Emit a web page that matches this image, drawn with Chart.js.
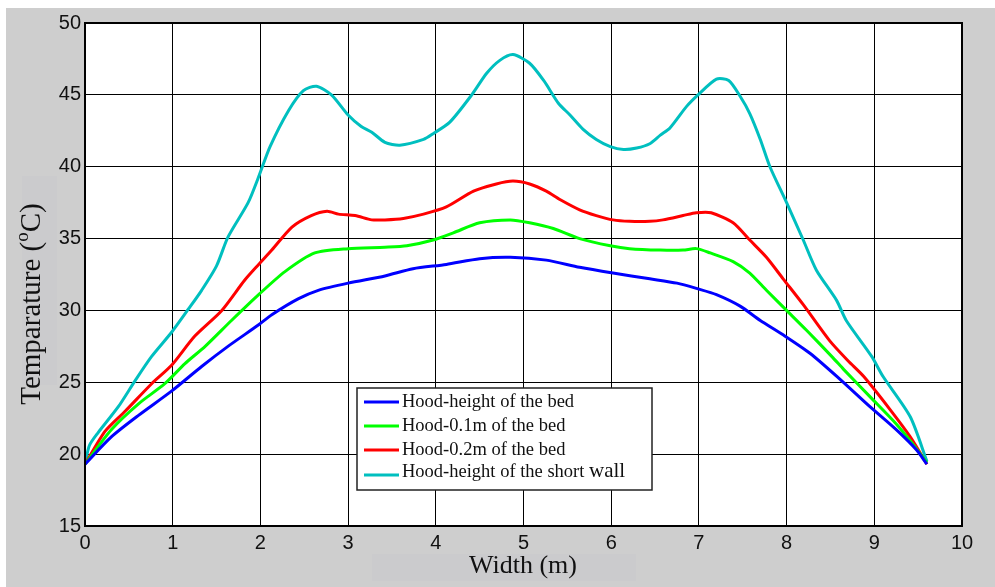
<!DOCTYPE html>
<html>
<head>
<meta charset="utf-8">
<script src="https://cdn.jsdelivr.net/npm/chart.js@4.4.1/dist/chart.umd.min.js"></script>
<style>
  html, body { margin: 0; padding: 0; background: #fff; }
  #panel { position: absolute; left: 6px; top: 8px; width: 989px; height: 579px; background: #cecece; }
  #wrap { position: absolute; left: 0; top: 0; width: 995px; height: 587px; }
</style>
</head>
<body>
<div id="panel"></div>
<div id="wrap"><canvas id="chart" width="995" height="587"></canvas></div>
<script>
// --- data ---
const seriesNames = ['Hood-height of the bed', 'Hood-0.1m of the bed', 'Hood-0.2m of the bed', 'Hood-height of the short wall'];
const xTicks = [0, 1, 2, 3, 4, 5, 6, 7, 8, 9, 10];
const yTicks = [15, 20, 25, 30, 35, 40, 45, 50];

const bedX = [0, 0.30, 0.61, 0.99, 1.33, 1.63, 1.98, 2.13, 2.43, 2.66, 3.0, 3.42, 3.74, 4.12, 4.50, 4.85, 5.26, 5.64, 6.02, 6.44, 6.75, 6.99, 7.20, 7.47, 7.70, 7.96, 8.27, 8.61, 8.95, 9.25, 9.48, 9.6];
const bedY = [19.3, 21.2, 22.7, 24.4, 26.1, 27.5, 29.0, 29.7, 30.8, 31.4, 31.9, 32.4, 32.9, 33.2, 33.6, 33.7, 33.5, 33.0, 32.6, 32.2, 31.9, 31.5, 31.1, 30.3, 29.3, 28.3, 27.0, 25.2, 23.3, 21.7, 20.3, 19.3];

const bed01X = [0, 0.30, 0.61, 0.91, 1.14, 1.37, 1.67, 1.98, 2.28, 2.62, 3.0, 3.42, 3.67, 3.97, 4.20, 4.50, 4.85, 5.07, 5.34, 5.64, 5.99, 6.21, 6.56, 6.82, 6.97, 7.13, 7.39, 7.58, 7.77, 8.0, 8.23, 8.53, 8.65, 8.95, 9.25, 9.44, 9.6];
const bed01Y = [19.3, 21.7, 23.5, 24.9, 26.3, 27.5, 29.3, 31.1, 32.7, 34.0, 34.3, 34.4, 34.5, 34.9, 35.4, 36.1, 36.3, 36.1, 35.7, 35.0, 34.5, 34.3, 34.2, 34.2, 34.3, 34.0, 33.4, 32.6, 31.4, 30.0, 28.6, 26.7, 25.9, 24.0, 22.1, 20.7, 19.4];

const bed02X = [0, 0.23, 0.46, 0.76, 0.99, 1.25, 1.56, 1.82, 1.98, 2.13, 2.36, 2.58, 2.76, 2.89, 3.08, 3.27, 3.42, 3.63, 3.86, 4.12, 4.43, 4.69, 4.88, 5.07, 5.26, 5.42, 5.64, 5.83, 6.02, 6.21, 6.44, 6.59, 6.82, 6.97, 7.14, 7.39, 7.58, 7.77, 7.96, 8.19, 8.49, 8.70, 8.88, 9.18, 9.41, 9.6];
const bed02Y = [19.3, 21.6, 23.0, 24.9, 26.2, 28.2, 30.0, 32.1, 33.2, 34.2, 35.8, 36.6, 36.9, 36.7, 36.6, 36.3, 36.3, 36.4, 36.7, 37.2, 38.3, 38.8, 39.0, 38.8, 38.3, 37.7, 37.0, 36.6, 36.3, 36.2, 36.2, 36.3, 36.6, 36.8, 36.8, 36.1, 34.9, 33.7, 32.2, 30.4, 27.9, 26.5, 25.4, 23.1, 21.2, 19.3];

const wallX = [0, 0.05, 0.15, 0.38, 0.57, 0.76, 0.99, 1.18, 1.33, 1.5, 1.63, 1.86, 1.98, 2.11, 2.32, 2.49, 2.64, 2.81, 3.0, 3.15, 3.27, 3.42, 3.59, 3.86, 3.97, 4.16, 4.41, 4.58, 4.73, 4.88, 5.07, 5.23, 5.40, 5.53, 5.68, 5.83, 5.99, 6.14, 6.29, 6.44, 6.56, 6.67, 6.86, 6.99, 7.20, 7.34, 7.47, 7.58, 7.70, 7.81, 8.0, 8.19, 8.34, 8.57, 8.68, 8.97, 9.10, 9.41, 9.6];
const wallY = [19.3, 20.6, 21.5, 23.3, 25.1, 26.8, 28.5, 30.1, 31.4, 33.1, 35.1, 37.5, 39.3, 41.4, 43.9, 45.3, 45.6, 45.0, 43.6, 42.8, 42.4, 41.7, 41.5, 41.9, 42.3, 43.1, 45.0, 46.5, 47.4, 47.8, 47.2, 46.0, 44.4, 43.6, 42.6, 41.9, 41.4, 41.2, 41.3, 41.6, 42.2, 42.7, 44.2, 45.0, 46.1, 46.0, 44.9, 43.7, 41.9, 40.0, 37.5, 34.9, 32.8, 30.7, 29.3, 26.8, 25.4, 22.6, 19.5];

const colors = ['#0000ff', '#00ff00', '#ff0000', '#00bfbf'];

function toPoints(xs, ys) {
  return xs.map((x, i) => ({ x: x, y: ys[i] }));
}

// white plot area, frame, axis titles and the boxed legend
const decor = {
  id: 'decor',
  beforeDraw(chart) {
    const { ctx, chartArea: a } = chart;
    ctx.save();
    // faint boxes behind the axis titles
    ctx.fillStyle = '#cbcbcd';
    ctx.fillRect(22, 176, 35, 209);
    ctx.fillRect(372, 554, 264, 27);
    ctx.fillStyle = '#fff';
    ctx.fillRect(a.left, a.top, a.right - a.left, a.bottom - a.top);
    ctx.restore();
  },
  afterDraw(chart) {
    const { ctx, chartArea: a } = chart;
    ctx.save();
    ctx.strokeStyle = '#000';
    ctx.lineWidth = 2;
    ctx.strokeRect(a.left, a.top, a.right - a.left, a.bottom - a.top);

    // x title
    ctx.fillStyle = '#111';
    ctx.font = '26px "Liberation Serif"';
    ctx.textAlign = 'center';
    ctx.textBaseline = 'middle';
    ctx.fillText('Width (m)', 523, 566);

    // y title with superscript o
    ctx.translate(30, 304);
    ctx.rotate(-Math.PI / 2);
    const p1 = 'Temparature (', p2 = 'o', p3 = 'C)';
    ctx.font = '29px "Liberation Serif"';
    const w1 = ctx.measureText(p1).width;
    const w3 = ctx.measureText(p3).width;
    ctx.font = '19px "Liberation Serif"';
    const w2 = ctx.measureText(p2).width;
    let x0 = -(w1 + w2 + w3) / 2;
    ctx.textAlign = 'left';
    ctx.textBaseline = 'alphabetic';
    ctx.font = '29px "Liberation Serif"';
    ctx.fillText(p1, x0, 10);
    ctx.font = '19px "Liberation Serif"';
    ctx.fillText(p2, x0 + w1, -2);
    ctx.font = '29px "Liberation Serif"';
    ctx.fillText(p3, x0 + w1 + w2, 10);
    ctx.restore();

    // legend box
    ctx.save();
    ctx.fillStyle = '#fff';
    ctx.fillRect(357, 388, 295, 102);
    ctx.strokeStyle = '#222';
    ctx.lineWidth = 1.5;
    ctx.strokeRect(357, 388, 295, 102);
    const rows = [402, 426, 450, 475];
    ctx.textBaseline = 'middle';
    ctx.textAlign = 'left';
    seriesNames.forEach((name, i) => {
      ctx.strokeStyle = colors[i];
      ctx.lineWidth = 3;
      ctx.beginPath();
      ctx.moveTo(364, rows[i]);
      ctx.lineTo(399, rows[i]);
      ctx.stroke();
      ctx.fillStyle = '#111';
      if (i === 3) {
        const head = 'Hood-height of the short ';
        ctx.font = '18.5px "Liberation Serif"';
        ctx.fillText(head, 402, rows[i] - 3);
        const hw = ctx.measureText(head).width;
        ctx.font = '21px "Liberation Serif"';
        ctx.fillText('wall', 402 + hw, rows[i] - 4);
      } else {
        ctx.font = '18.5px "Liberation Serif"';
        ctx.fillText(name, 402, rows[i]);
      }
    });
    ctx.restore();
  }
};

const seriesX = [bedX, bed01X, bed02X, wallX];
const seriesY = [bedY, bed01Y, bed02Y, wallY];

new Chart(document.getElementById('chart').getContext('2d'), {
  type: 'line',
  data: {
    datasets: seriesNames.map((name, i) => ({
      label: name,
      data: toPoints(seriesX[i], seriesY[i]),
      borderColor: colors[i],
      backgroundColor: colors[i],
      borderWidth: 3,
      pointRadius: 0,
      tension: 0.25,
      fill: false
    }))
  },
  options: {
    responsive: false,
    animation: false,
    layout: { padding: { left: 0, top: 23, right: 33, bottom: 0 } },
    plugins: { legend: { display: false }, tooltip: { enabled: false } },
    scales: {
      x: {
        type: 'linear',
        min: 0, max: 10,
        afterBuildTicks: s => { s.ticks = xTicks.map(v => ({ value: v })); },
        afterFit: s => { s.height = 61; },
        grid: { color: '#000', lineWidth: 1, drawTicks: false },
        border: { display: false },
        ticks: { color: '#111', padding: 5, font: { family: '"Liberation Sans"', size: 20 } }
      },
      y: {
        min: 15, max: 50,
        afterBuildTicks: s => { s.ticks = yTicks.map(v => ({ value: v })); },
        afterFit: s => { s.width = 85; },
        grid: { color: '#000', lineWidth: 1, drawTicks: false },
        border: { display: false },
        ticks: { color: '#111', padding: 4, font: { family: '"Liberation Sans"', size: 20 } }
      }
    }
  },
  plugins: [decor]
});
</script>
</body>
</html>
